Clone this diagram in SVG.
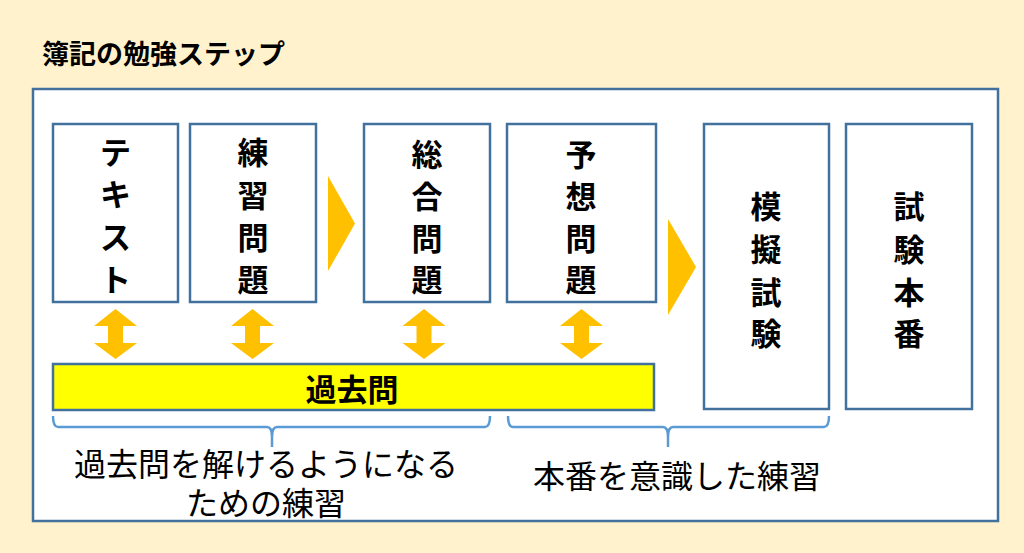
<svg xmlns="http://www.w3.org/2000/svg" xmlns:xlink="http://www.w3.org/1999/xlink" width="1024" height="553" viewBox="0 0 1024 553">
<style>
.box{fill:#fff;stroke:#41719c;stroke-width:2.5}
.vt{font-family:"Noto Sans CJK JP","Noto Sans CJK SC",sans-serif;font-weight:700;font-size:31px;fill:#000;text-anchor:middle;dominant-baseline:central}
.lt{font-family:"Noto Sans CJK JP","Noto Sans CJK SC",sans-serif;font-weight:400;font-size:32px;fill:#000;text-anchor:middle;dominant-baseline:central}
.arr{fill:#ffc000}
.br{fill:none;stroke:#5b9bd5;stroke-width:2.5}
</style>
<defs>
<path id="dbl" d="M0,0 L21.5,17 L7.5,17 L7.5,34 L21.5,34 L0,50 L-21.5,34 L-7.5,34 L-7.5,17 L-21.5,17 Z"/>
</defs>
<rect x="0" y="0" width="1024" height="553" fill="#fff2cc"/>
<text x="42" y="52" font-family="'Noto Sans CJK JP','Noto Sans CJK SC',sans-serif" font-weight="700" font-size="27" dominant-baseline="central" fill="#000">簿記の勉強ステップ</text>
<rect id="frame" x="33" y="89" width="965" height="432" fill="#fff" stroke="#41719c" stroke-width="2.5"/>

<g id="node-text">
<rect class="box" x="53" y="124" width="125" height="178"/>
<text class="vt" x="115.5" y="150">テ</text><text class="vt" x="115.5" y="192">キ</text><text class="vt" x="115.5" y="235">ス</text><text class="vt" x="115.5" y="277">ト</text>
</g>
<g id="node-renshu">
<rect class="box" x="190" y="124" width="126" height="178"/>
<text class="vt" x="253" y="150">練</text><text class="vt" x="253" y="193">習</text><text class="vt" x="253" y="235">問</text><text class="vt" x="253" y="277">題</text>
</g>
<g id="node-sogo">
<rect class="box" x="364" y="124" width="126" height="178"/>
<text class="vt" x="427" y="152">総</text><text class="vt" x="427" y="194">合</text><text class="vt" x="427" y="236">問</text><text class="vt" x="427" y="277">題</text>
</g>
<g id="node-yoso">
<rect class="box" x="507" y="124" width="149" height="178"/>
<text class="vt" x="581" y="152">予</text><text class="vt" x="581" y="194">想</text><text class="vt" x="581" y="236">問</text><text class="vt" x="581" y="277">題</text>
</g>
<g id="node-mogi">
<rect class="box" x="704" y="124" width="125" height="285"/>
<text class="vt" x="766" y="204">模</text><text class="vt" x="766" y="247">擬</text><text class="vt" x="766" y="290">試</text><text class="vt" x="766" y="331">験</text>
</g>
<g id="node-honban">
<rect class="box" x="846" y="124" width="126" height="285"/>
<text class="vt" x="909" y="204">試</text><text class="vt" x="909" y="247">験</text><text class="vt" x="909" y="290">本</text><text class="vt" x="909" y="331">番</text>
</g>
<g id="node-kakomon">
<rect x="53" y="364" width="601" height="46" fill="#ffff00" stroke="#41719c" stroke-width="2.5"/>
<text class="vt" x="352" y="387" font-size="33">過去問</text>
</g>

<g id="connectors">
<polygon class="arr" points="328,176 355,223.5 328,271"/>
<polygon class="arr" points="668,219 696,267 668,315"/>
<use href="#dbl" xlink:href="#dbl" class="arr" x="115.5" y="309"/>
<use href="#dbl" xlink:href="#dbl" class="arr" x="252.5" y="309"/>
<use href="#dbl" xlink:href="#dbl" class="arr" x="424" y="309"/>
<use href="#dbl" xlink:href="#dbl" class="arr" x="581.5" y="309"/>
<path class="br" d="M53,416 Q53,427 58,427 L267,427 Q272,427 272,437 L272,447 M272,437 Q272,427 277,427 L485,427 Q490,427 490,416"/>
<path class="br" d="M508,416 Q508,427 513,427 L663,427 Q668,427 668,437 L668,447 M668,437 Q668,427 673,427 L824,427 Q829,427 829,416"/>
</g>

<g id="labels">
<text class="lt"><tspan x="266" y="462">過去問を解けるようになる</tspan><tspan x="266" y="501">ための練習</tspan></text>
<text class="lt" x="677" y="474">本番を意識した練習</text>
</g>
</svg>
